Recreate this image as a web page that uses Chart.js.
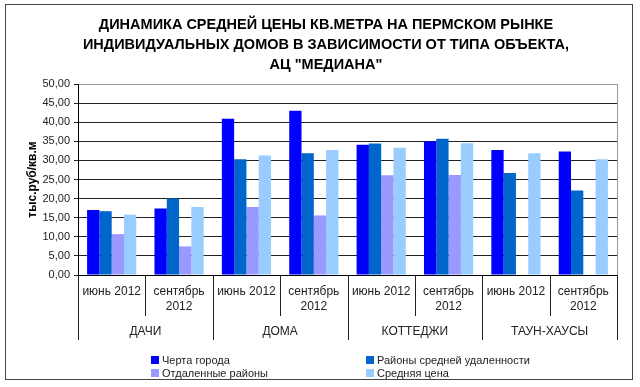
<!DOCTYPE html>
<html>
<head>
<meta charset="utf-8">
<script src="https://cdn.jsdelivr.net/npm/chart.js@4"></script>
<style>
  body { margin: 0; background: #fff; }
  #wrap { width: 640px; height: 387px; position: relative; }
</style>
</head>
<body>
<div id="wrap"><canvas id="chart"></canvas></div>
<script>
const titleLines = [
  'ДИНАМИКА СРЕДНЕЙ ЦЕНЫ КВ.МЕТРА НА ПЕРМСКОМ РЫНКЕ',
  'ИНДИВИДУАЛЬНЫХ ДОМОВ В ЗАВИСИМОСТИ ОТ ТИПА ОБЪЕКТА,',
  'АЦ "МЕДИАНА"'
];
const groups = ['ДАЧИ', 'ДОМА', 'КОТТЕДЖИ', 'ТАУН-ХАУСЫ'];
const periods = [['июнь 2012'], ['сентябрь', '2012']];
const yTitle = 'тыс.руб/кв.м';

// values, one per category (group x period)
const chertaGoroda = [17.0, 17.4, 40.9, 43.0, 34.1, 35.0, 32.7, 32.3];
const rayonySredney = [16.7, 20.0, 30.3, 31.9, 34.4, 35.7, 26.7, 22.1];
const otdalennye = [10.7, 7.5, 17.8, 15.6, 26.1, 26.2, null, null];
const srednyayaCena = [15.8, 17.8, 31.3, 32.7, 33.3, 34.5, 31.9, 30.3];

const seriesNames = ['Черта города', 'Районы средней удаленности', 'Отдаленные районы', 'Средняя цена'];
const seriesColors = ['#0000FF', '#0066CC', '#9999FF', '#99CCFF'];

const FONT = '"Liberation Sans", Arial, sans-serif';

// build category list from groups and periods
const labels = [];
for (const g of groups) {
  for (const p of periods) labels.push(p.join(' ') + ' ' + g);
}

const decorPlugin = {
  id: 'decor',
  beforeDraw(chart) {
    const ctx = chart.ctx;
    ctx.save();
    ctx.fillStyle = '#fff';
    ctx.fillRect(0, 0, chart.width, chart.height);
    ctx.restore();
  },
  afterDraw(chart) {
    const ctx = chart.ctx;
    const area = chart.chartArea;
    const x = chart.scales.x;
    ctx.save();

    // right edge of plot area
    ctx.strokeStyle = '#999';
    ctx.lineWidth = 1;
    ctx.beginPath();
    ctx.moveTo(Math.round(area.right) + 0.5, area.top);
    ctx.lineTo(Math.round(area.right) + 0.5, area.bottom);
    ctx.stroke();

    // category separators
    const n = labels.length;
    const step = (area.right - area.left) / n;
    ctx.strokeStyle = '#222';
    for (let k = 0; k <= n; k++) {
      const bx = Math.round(area.left + k * step) + 0.5;
      const end = (k % periods.length === 0) ? 340 : 316;
      ctx.beginPath();
      ctx.moveTo(bx, area.bottom);
      ctx.lineTo(bx, end);
      ctx.stroke();
    }

    // period labels
    ctx.fillStyle = '#222';
    ctx.font = '12px ' + FONT;
    ctx.textAlign = 'center';
    ctx.textBaseline = 'middle';
    for (let i = 0; i < n; i++) {
      const cx = x.getPixelForValue(i);
      const lines = periods[i % periods.length];
      lines.forEach((t, j) => ctx.fillText(t, cx, 292 + j * 15));
    }

    // group labels
    groups.forEach((g, gi) => {
      const cx = area.left + (gi * periods.length + periods.length / 2) * step;
      ctx.fillText(g, cx, 332);
    });

    // title
    ctx.fillStyle = '#000';
    ctx.font = 'bold 14.5px ' + FONT;
    titleLines.forEach((t, i) => ctx.fillText(t, 326, 25 + i * 20));

    // legend, two columns
    ctx.font = '11px ' + FONT;
    ctx.textAlign = 'left';
    const colX = [151, 366];
    const rowY = [360, 373];
    seriesNames.forEach((name, i) => {
      const lx = colX[i % 2];
      const ly = rowY[Math.floor(i / 2)];
      ctx.fillStyle = seriesColors[i];
      ctx.fillRect(lx, ly - 4, 8, 8);
      ctx.fillStyle = '#222';
      ctx.fillText(name, lx + 11, ly + 0.5);
    });

    // outer frame
    ctx.strokeStyle = '#444';
    ctx.strokeRect(5.5, 4.5, 627, 375);
    ctx.restore();
  }
};

new Chart(document.getElementById('chart'), {
  type: 'bar',
  data: {
    labels: labels,
    datasets: [
      { label: seriesNames[0], data: chertaGoroda, backgroundColor: seriesColors[0] },
      { label: seriesNames[1], data: rayonySredney, backgroundColor: seriesColors[1] },
      { label: seriesNames[2], data: otdalennye, backgroundColor: seriesColors[2] },
      { label: seriesNames[3], data: srednyayaCena, backgroundColor: seriesColors[3] }
    ]
  },
  options: {
    responsive: true,
    maintainAspectRatio: false,
    animation: false,
    events: [],
    categoryPercentage: 0.73,
    barPercentage: 1.0,
    layout: { padding: { left: 18, right: 23, top: 84, bottom: 112 } },
    plugins: {
      legend: { display: false },
      title: { display: false },
      tooltip: { enabled: false }
    },
    scales: {
      x: {
        offset: true,
        grid: { display: false },
        ticks: { display: false },
        border: { color: '#000' },
        afterFit(s) { s.height = 0; }
      },
      y: {
        min: 0,
        max: 50,
        afterFit(s) { s.width = 60; },
        ticks: {
          stepSize: 5,
          padding: 4,
          color: '#222',
          font: { size: 11, family: FONT },
          callback: v => v.toFixed(2).replace('.', ',')
        },
        grid: {
          color: c => (c.tick && c.tick.value === 50) ? '#999' : '#222',
          tickColor: '#222',
          tickLength: 4
        },
        border: { color: '#000' },
        title: {
          display: true,
          text: yTitle,
          color: '#000',
          font: { size: 12, weight: 'bold', family: FONT },
          padding: { top: 7, bottom: 0 }
        }
      }
    }
  },
  plugins: [decorPlugin]
});
</script>
</body>
</html>
